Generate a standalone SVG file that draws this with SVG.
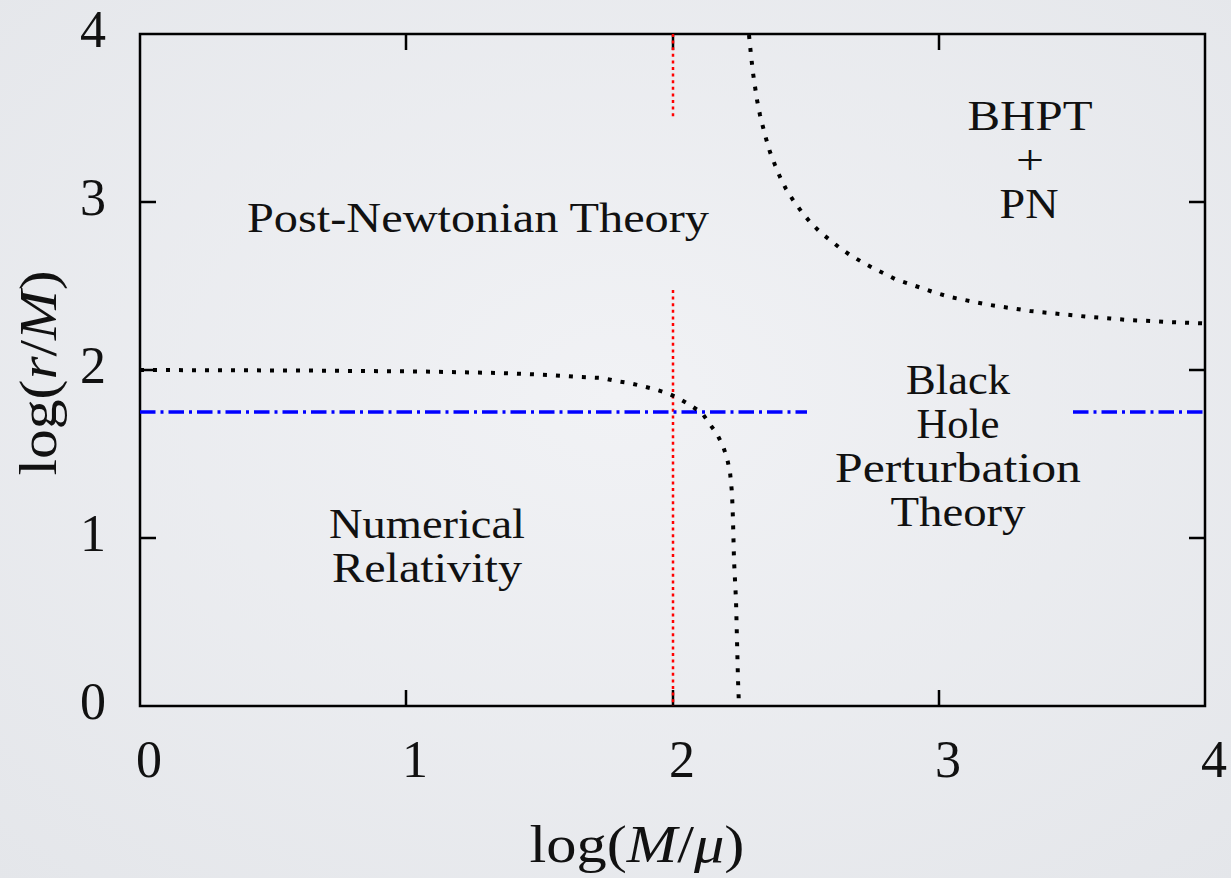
<svg xmlns="http://www.w3.org/2000/svg" width="1231" height="878" viewBox="0 0 1231 878">
<defs>
<radialGradient id="bg" cx="0.5" cy="0.45" r="0.75">
<stop offset="0" stop-color="#f1f2f5"/>
<stop offset="1" stop-color="#e4e6ea"/>
</radialGradient>
</defs>
<style>
text{font-family:"Liberation Serif","DejaVu Serif",serif;fill:#111}
.tick{font-size:52px}
.lab{font-size:42px;text-anchor:middle}
.ax{font-size:52px;text-anchor:middle}
.frame{fill:none;stroke:#000;stroke-width:2.5}
.tk{stroke:#000;stroke-width:2.5}
.bdry{fill:none;stroke:#000;stroke-width:4;stroke-dasharray:4 9}
.red{fill:none;stroke:#ff0000;stroke-width:2.5;stroke-dasharray:3 3.6}
.blue{fill:none;stroke:#0000ff;stroke-width:3.5;stroke-dasharray:15.5 5 3 5}
</style>
<rect width="1231" height="878" fill="url(#bg)"/>
<g id="axes">
<rect class="frame" x="140" y="34" width="1065" height="672"/>
<path class="tk" d="M406,706v-16M673,706v-16M939,706v-16M406,34v16M673,34v16M939,34v16M140,202h16M140,370h16M140,538h16M1205,202h-16M1205,370h-16M1205,538h-16"/>
<g class="tick" text-anchor="end">
<text x="106" y="47">4</text>
<text x="106" y="215">3</text>
<text x="106" y="383">2</text>
<text x="106" y="551">1</text>
<text x="106" y="719">0</text>
</g>
<g class="tick" text-anchor="middle">
<text x="149" y="777">0</text>
<text x="415" y="777">1</text>
<text x="682" y="777">2</text>
<text x="948" y="777">3</text>
<text x="1214" y="777">4</text>
</g>
<text class="ax" x="637" y="862" textLength="215" lengthAdjust="spacingAndGlyphs">log(<tspan font-style="italic">M</tspan>/<tspan font-style="italic">μ</tspan>)</text>
<text class="ax" transform="translate(56,373) rotate(-90)" textLength="205" lengthAdjust="spacingAndGlyphs">log(<tspan font-style="italic">r</tspan>/<tspan font-style="italic">M</tspan>)</text>
</g>
<g id="connectors">
<path class="red" d="M673,34V118M673,290V706"/>
<path class="blue" d="M140,412H807"/>
<path class="blue" d="M1073,412H1205"/>
<polyline class="bdry" points="140,370 300,370.5 420,371.5 500,373 550,375 580,377 602,378 616,381 629,383 642,386 654,389 667,393 678,398 690,405 702,413 709,423 717,434 723,446 727,458 730,472 732,493 733,520 734,560 736,600 737,640 738,680 739,706"/>
<polyline class="bdry" points="749,35 751,55 753,73 757,100 760,115 765,135 770,152 775,165 780,177 786,189 793,200 801,211 810,222 820,232 830,240 840,248 850,255 862,262 873,268 885,274 897,280 908,283.5 920,287.5 933,292 950,297 972,301.5 990,305 1010,308 1030,311 1050,313 1070,315 1090,317 1110,318.5 1128,320 1150,321 1167,322 1195,323 1205,323.5"/>
</g>
<g id="pn">
<text class="lab" x="478" y="232" textLength="462" lengthAdjust="spacingAndGlyphs">Post-Newtonian Theory</text>
</g>
<g id="bhpt-pn">
<text class="lab" x="1030" y="130" textLength="125" lengthAdjust="spacingAndGlyphs">BHPT</text>
<text class="lab" x="1030" y="174" textLength="28" lengthAdjust="spacingAndGlyphs">+</text>
<text class="lab" x="1029" y="218" textLength="59" lengthAdjust="spacingAndGlyphs">PN</text>
</g>
<g id="bhpt">
<text class="lab" x="958" y="394" textLength="104" lengthAdjust="spacingAndGlyphs">Black</text>
<text class="lab" x="958" y="438" textLength="83" lengthAdjust="spacingAndGlyphs">Hole</text>
<text class="lab" x="958" y="482" textLength="246" lengthAdjust="spacingAndGlyphs">Perturbation</text>
<text class="lab" x="958" y="526" textLength="135" lengthAdjust="spacingAndGlyphs">Theory</text>
</g>
<g id="nr">
<text class="lab" x="427" y="538" textLength="196" lengthAdjust="spacingAndGlyphs">Numerical</text>
<text class="lab" x="427" y="582" textLength="190" lengthAdjust="spacingAndGlyphs">Relativity</text>
</g>
</svg>
